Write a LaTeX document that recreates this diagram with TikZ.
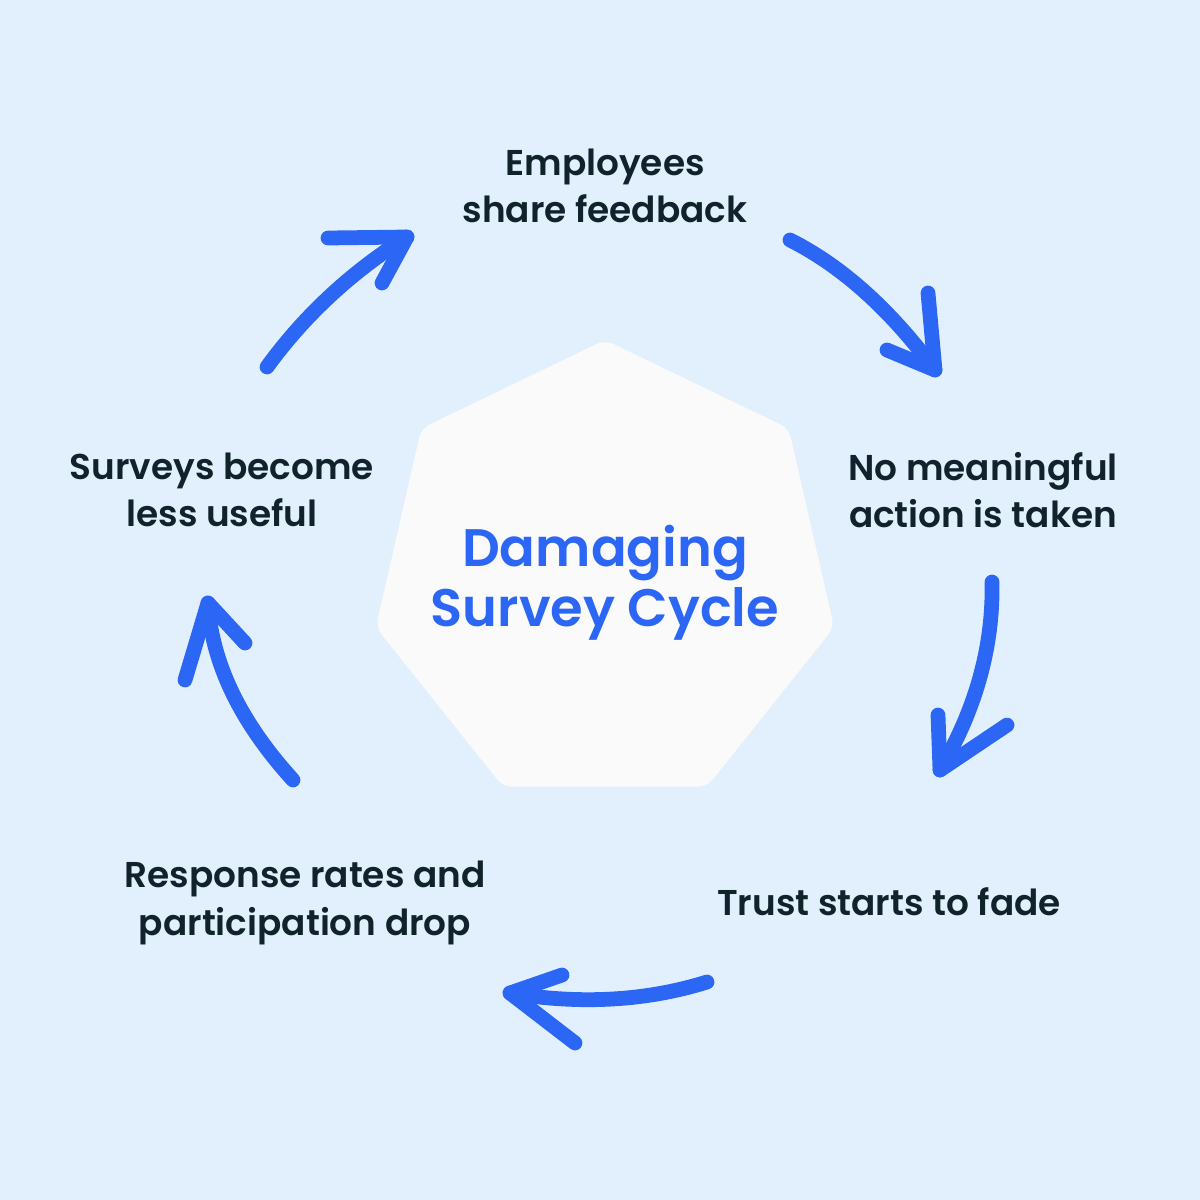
\documentclass[tikz,border=0pt]{standalone}
\usepackage{fontspec}
\setmainfont{Poppins}[BoldFont={Poppins SemiBold}]
\definecolor{bgc}{HTML}{E2F0FD}
\definecolor{arrc}{HTML}{2B66F5}
\definecolor{txtc}{HTML}{10232A}
\definecolor{hepc}{HTML}{FAFAFA}
\begin{document}
\begin{tikzpicture}[x=0.01cm,y=-0.01cm,
  lbl/.style={text=txtc,font=\fontsize{10.2}{13.4}\selectfont\bfseries,align=center,inner sep=0pt},
  ctr/.style={text=arrc,font=\fontsize{15}{17}\selectfont\bfseries,align=center,inner sep=0pt},
  shaft/.style={draw=arrc,line width=4.2pt,line cap=round,line join=round}]
\fill[bgc] (0,0) rectangle (1200,1200);
\useasboundingbox (0,0) rectangle (1200,1200);
% heptagon
\fill[hepc,rounded corners=2.5pt] (605,340) -- (788.7,428.5) -- (834.1,627.3) -- (707,786.7) -- (503,786.7) -- (375.9,627.3) -- (421.3,428.5) -- cycle;
% labels
\node[lbl] (emp) at (605,186) {Employees\\share feedback};
\node[lbl] (nom) at (983,490) {No meaningful\\action is taken};
\node[lbl] (tru) at (889,902) {Trust starts to fade};
\node[lbl] (res) at (305,903) {Response rates and\\participation drop};
\node[lbl] (sur) at (222,490) {Surveys become\\less useful};
\node[ctr] (cen) at (605,583) {Damaging\\Survey Cycle};
% arrow 1
\coordinate (a1s) at (790,240); \coordinate (a1t) at (935,370);
\coordinate (a1l) at (928,293); \coordinate (a1r) at (887,350);
\draw[shaft] (a1s) .. controls (841.7,266) and (890,309.3) .. (a1t);
\draw[shaft] (a1l) -- (a1t) -- (a1r);
% arrow 2
\coordinate (a2s) at (992,582); \coordinate (a2t) at (940,770);
\coordinate (a2l) at (938,715); \coordinate (a2r) at (1007,725);
\draw[shaft] (a2s) .. controls (993.3,646) and (976,708.7) .. (a2t);
\draw[shaft] (a2l) -- (a2t) -- (a2r);
% arrow 3
\coordinate (a3s) at (707,982); \coordinate (a3t) at (510,993);
\coordinate (a3l) at (562,975); \coordinate (a3r) at (575,1043);
\draw[shaft] (a3s) .. controls (646,1001) and (580.3,1004.7) .. (a3t);
\draw[shaft] (a3l) -- (a3t) -- (a3r);
% arrow 4
\coordinate (a4s) at (293,780); \coordinate (a4t) at (208,603);
\coordinate (a4l) at (185,680); \coordinate (a4r) at (245,643);
\draw[shaft] (a4s) .. controls (240,721.7) and (211.7,662.7) .. (a4t);
\draw[shaft] (a4l) -- (a4t) -- (a4r);
% arrow 5
\coordinate (a5s) at (267,367); \coordinate (a5t) at (407,237);
\coordinate (a5l) at (328,238); \coordinate (a5r) at (382,283);
\draw[shaft] (a5s) .. controls (304.3,315.7) and (351,272.3) .. (a5t);
\draw[shaft] (a5l) -- (a5t) -- (a5r);
\end{tikzpicture}
\end{document}
